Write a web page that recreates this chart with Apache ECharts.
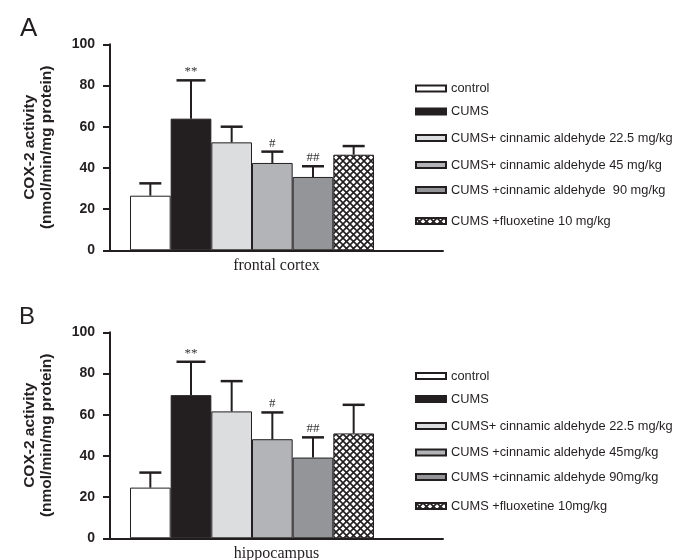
<!DOCTYPE html>
<html>
<head>
<meta charset="utf-8">
<script src="https://cdn.jsdelivr.net/npm/echarts@6/dist/echarts.min.js"></script>
<style>html,body{margin:0;padding:0;background:#fff;}#c{width:675px;height:560px;}</style>
</head>
<body>
<div id="c"></div>
<script>
// ---- data ----
const groupKeys = ['control', 'CUMS', 'CA22.5', 'CA45', 'CA90', 'FLX10'];
const namesA = ['control', 'CUMS', 'CUMS+ cinnamic aldehyde 22.5 mg/kg', 'CUMS+ cinnamic aldehyde 45 mg/kg', 'CUMS +cinnamic aldehyde  90 mg/kg', 'CUMS +fluoxetine 10 mg/kg'];
const namesB = ['control', 'CUMS', 'CUMS+ cinnamic aldehyde 22.5 mg/kg', 'CUMS +cinnamic aldehyde 45mg/kg', 'CUMS +cinnamic aldehyde 90mg/kg', 'CUMS +fluoxetine 10mg/kg'];
const meanA = [26.5, 63.9, 52.4, 42.4, 35.6, 46.4];
const errA  = [6.0, 18.6, 7.6, 5.5, 5.2, 4.2];
const meanB = [24.6, 69.5, 61.6, 48.1, 39.2, 50.9];
const errB  = [7.3, 16.2, 14.7, 13.0, 9.8, 13.9];
const sigA = ['', '**', '', '#', '##', ''];
const sigB = ['', '**', '', '#', '##', ''];
const yTicks = [0, 20, 40, 60, 80, 100];
const xNameA = 'frontal cortex';
const xNameB = 'hippocampus';
const yName = 'COX-2 activity\n(nmol/min/mg protein)';

// ---- styles ----
const ink = '#231f20';
function hatch() {
  const c = document.createElement('canvas');
  const s = 7; c.width = s; c.height = s;
  const g = c.getContext('2d');
  g.fillStyle = '#fff'; g.fillRect(0, 0, s, s);
  g.strokeStyle = ink; g.lineWidth = 1.6;
  g.beginPath();
  g.moveTo(-1, -1); g.lineTo(s + 1, s + 1);
  g.moveTo(-1, s + 1); g.lineTo(s + 1, -1);
  g.stroke();
  return {image: c, repeat: 'repeat'};
}
const fills = ['#ffffff', ink, '#dcdddf', '#b3b4b7', '#939598', hatch()];
const capW = [22, 29, 22, 22, 22, 22];

const chart = echarts.init(document.getElementById('c'), null, {renderer: 'canvas'});

const panels = [
  {top: 44.3, names: namesA, mean: meanA, err: errA, sig: sigA, xName: xNameA, nameGap: 7, legendCenters: [89.5, 112.5, 139, 166, 191, 222]},
  {top: 332.3, names: namesB, mean: meanB, err: errB, sig: sigB, xName: xNameB, nameGap: 7, legendCenters: [377, 400, 427, 453.5, 478, 507]}
];
const plotH = 206;

const grid = [], xAxis = [], yAxis = [], series = [], legend = [];
panels.forEach((p, pi) => {
  const gAxis = grid.length;
  grid.push({left: 110, right: 232, top: p.top, height: plotH, containLabel: false, outerBoundsMode: 'none'});
  grid.push({left: 130, width: 244, top: p.top, height: plotH, containLabel: false, outerBoundsMode: 'none'});
  xAxis.push({gridIndex: gAxis, type: 'value', min: 0, max: 1, axisLine: {show: true, lineStyle: {color: ink, width: 2}},
    axisTick: {show: false}, axisLabel: {show: false}, splitLine: {show: false},
    name: p.xName, nameLocation: 'middle', nameGap: p.nameGap,
    nameTextStyle: {fontFamily: 'Liberation Serif', fontSize: 16, color: ink}});
  xAxis.push({gridIndex: gAxis + 1, type: 'category', data: groupKeys, show: false});
  yAxis.push({gridIndex: gAxis, type: 'value', min: 0, max: 100, interval: 20,
    axisLine: {show: true, lineStyle: {color: ink, width: 2}},
    axisTick: {show: true, length: 7, lineStyle: {color: ink, width: 2}},
    axisLabel: {margin: 15, fontFamily: 'Liberation Sans', fontWeight: 'bold', fontSize: 14, color: ink,
      formatter: v => yTicks.includes(v) ? String(v) : ''},
    splitLine: {show: false},
    name: yName, nameLocation: 'middle', nameGap: 55,
    nameTextStyle: {fontFamily: 'Liberation Sans', fontWeight: 'bold', fontSize: 15.5, lineHeight: 17, color: ink}});
  yAxis.push({gridIndex: gAxis + 1, type: 'value', min: 0, max: 100, show: false});

  const xi = xAxis.length - 1, yi = yAxis.length - 1;
  p.names.forEach((nm, i) => {
    const d = groupKeys.map((_, j) => j === i ? p.mean[i] : '-');
    series.push({type: 'bar', name: nm, xAxisIndex: xi, yAxisIndex: yi, stack: 'p' + pi, barWidth: '100%',
      data: d, silent: true, animation: false,
      itemStyle: {color: fills[i], borderColor: ink, borderWidth: 1}});
    legend.push({data: [nm], left: 415, top: p.legendCenters[i] - 7.5, itemWidth: 30, itemHeight: 6, itemGap: 0,
      selectedMode: false, icon: 'rect',
      textStyle: {fontFamily: 'Liberation Sans', fontSize: 12.8, color: ink, padding: [0, 0, 0, 0]}, padding: 0});
  });
  const sig = p.sig;
  series.push({type: 'custom', xAxisIndex: xi, yAxisIndex: yi, z: 5, animation: false, silent: true,
    data: groupKeys.map((_, i) => [i, p.mean[i], p.err[i]]),
    renderItem: function (params, api) {
      const i = api.value(0), m = api.value(1), e = api.value(2);
      const base = api.coord([i, m]);
      const top = api.coord([i, m + e]);
      const w = capW[i];
      return {type: 'group', children: [
        {type: 'line', shape: {x1: top[0], y1: base[1], x2: top[0], y2: top[1]}, style: {stroke: ink, lineWidth: 2}},
        {type: 'line', shape: {x1: top[0] - w / 2, y1: top[1], x2: top[0] + w / 2, y2: top[1]}, style: {stroke: ink, lineWidth: 2.5}},
        {type: 'text', x: top[0], y: top[1] - 2, style: {text: sig[i], align: 'center', verticalAlign: 'bottom',
          font: '13px "Liberation Serif"', fill: '#333'}}
      ]};
    }});
});

chart.setOption({
  animation: false,
  backgroundColor: '#fff',
  title: [
    {text: 'A', left: 20, top: 16, padding: 0, textStyle: {fontFamily: 'Liberation Sans', fontSize: 26, fontWeight: 'normal', color: ink}},
    {text: 'B', left: 19, top: 305, padding: 0, textStyle: {fontFamily: 'Liberation Sans', fontSize: 24, fontWeight: 'normal', color: ink}}
  ],
  grid, xAxis, yAxis, series, legend
});
</script>
</body>
</html>
